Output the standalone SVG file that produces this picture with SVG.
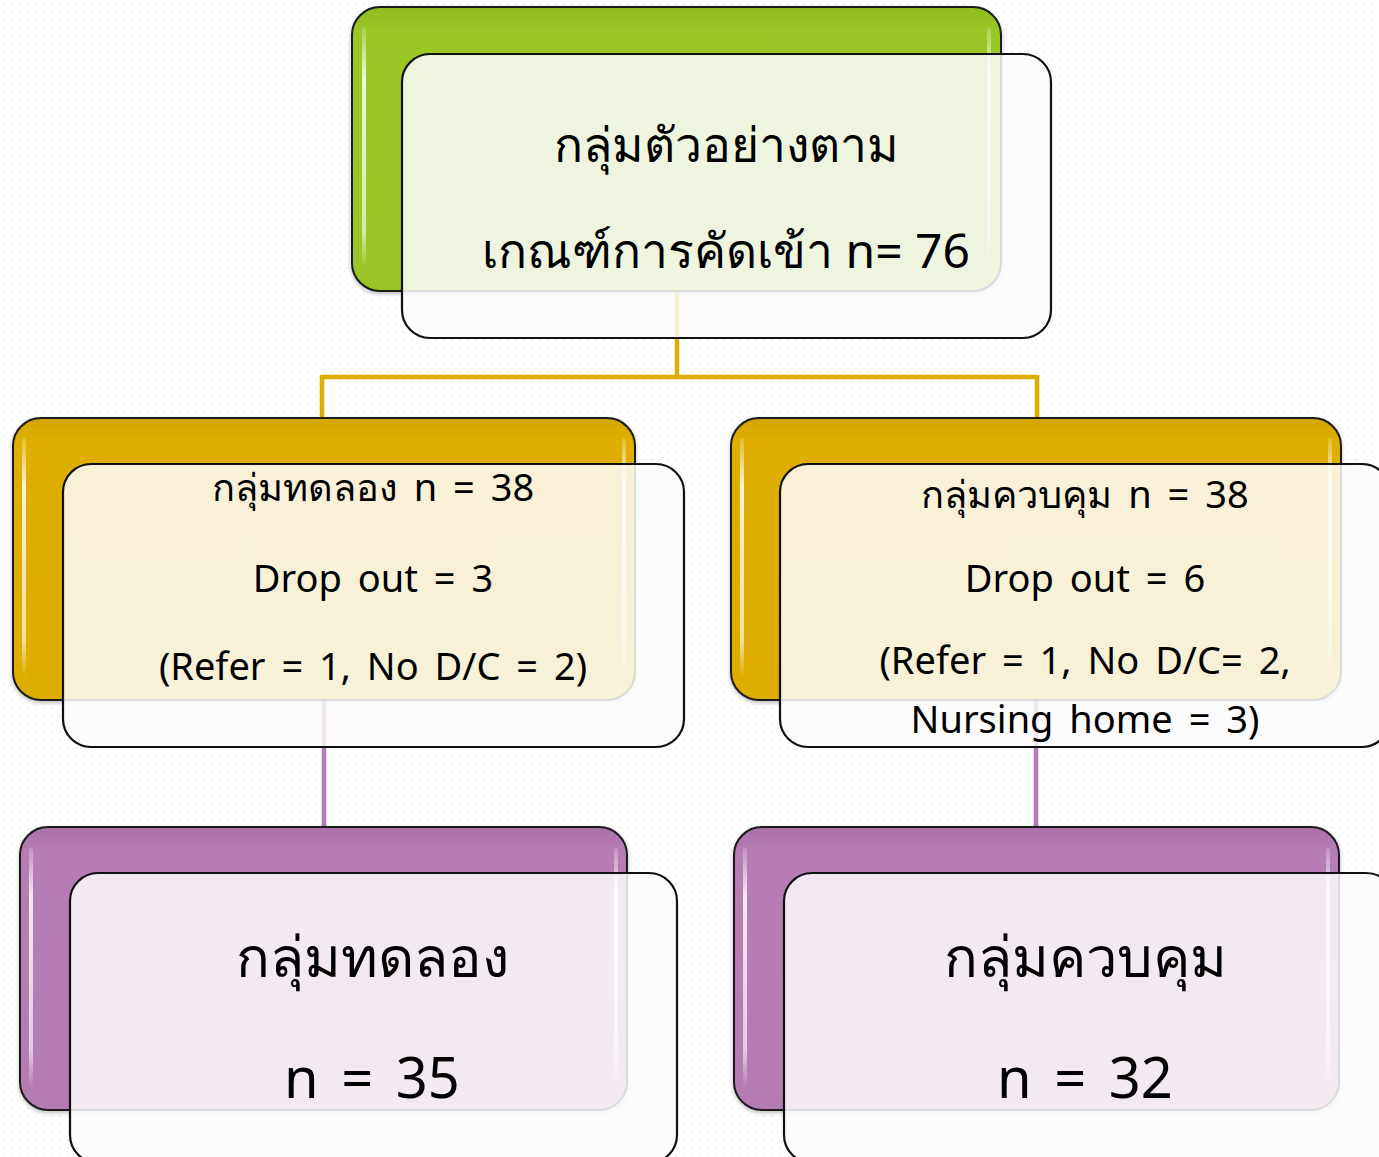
<svg xmlns="http://www.w3.org/2000/svg" width="1379" height="1157" viewBox="0 0 1379 1157">
<defs>
<pattern id="dots" width="8" height="8" patternUnits="userSpaceOnUse"><circle cx="4" cy="4" r="0.7" fill="#e2e2e2"/></pattern>
<linearGradient id="gGreen" x1="0" y1="0" x2="0" y2="1"><stop offset="0" stop-color="#8fbb1f"/><stop offset="0.08" stop-color="#9bc627"/><stop offset="1" stop-color="#9ac525"/></linearGradient>
<linearGradient id="gGold" x1="0" y1="0" x2="0" y2="1"><stop offset="0" stop-color="#d3a500"/><stop offset="0.08" stop-color="#deaf03"/><stop offset="1" stop-color="#ddae02"/></linearGradient>
<linearGradient id="gPurple" x1="0" y1="0" x2="0" y2="1"><stop offset="0" stop-color="#ab70a9"/><stop offset="0.08" stop-color="#b67cb4"/><stop offset="1" stop-color="#b57bb3"/></linearGradient>
<linearGradient id="hl" x1="0" y1="0" x2="0" y2="1"><stop offset="0" stop-color="#fff" stop-opacity="0.2"/><stop offset="0.2" stop-color="#fff" stop-opacity="0.85"/><stop offset="0.85" stop-color="#fff" stop-opacity="0.6"/><stop offset="1" stop-color="#fff" stop-opacity="0"/></linearGradient>
<filter id="sh" x="-5%" y="-5%" width="110%" height="115%"><feDropShadow dx="0" dy="2" stdDeviation="2" flood-color="#000" flood-opacity="0.25"/></filter>
</defs>
<style>
.back{stroke:#1a1a1a;stroke-width:2}
.front{fill:#fbfbfb;fill-opacity:0.86;stroke:#111;stroke-width:2.2}
.hl{stroke:url(#hl);stroke-width:4;stroke-linecap:round;fill:none}
.t{font-family:"Noto Sans","Liberation Sans","DejaVu Sans",sans-serif;fill:#000;text-anchor:middle}
.big{font-size:48px}
.mid{font-size:38px;word-spacing:6px}
.lg{font-size:56px;word-spacing:8px}
.cg{stroke:#ddad00;stroke-width:4.5;fill:none}
.cp{stroke:#b67cb4;stroke-width:4.5;fill:none}
</style>
<rect width="1379" height="1157" fill="#fff"/>
<rect width="1379" height="1157" fill="url(#dots)"/>
<g id="connectors">
<path class="cg" d="M677 291 V377 M322 377 H1037 M322 375 V418 M1037 375 V418"/>
<path class="cp" d="M324 700 V828 M1036 700 V828"/>
</g>
<g id="node-top">
<rect class="back" x="352" y="7" width="649" height="284" rx="28" fill="url(#gGreen)" filter="url(#sh)"/>
<path class="hl" d="M364 30 V268 M989 30 V268"/>
<rect class="front" x="402" y="54" width="649" height="284" rx="28"/>
<text class="t big" x="726" y="162">กลุ่มตัวอย่างตาม</text>
<text class="t big" x="726" y="268">เกณฑ์การคัดเข้า n= 76</text>
</g>
<g id="node-exp">
<rect class="back" x="13" y="418" width="622" height="282" rx="28" fill="url(#gGold)" filter="url(#sh)"/>
<path class="hl" d="M24 440 V677 M624 440 V677"/>
<rect class="front" x="63" y="464" width="621" height="283" rx="28"/>
<text class="t mid" x="373" y="501">กลุ่มทดลอง n = 38</text>
<text class="t mid" x="373" y="592">Drop out = 3</text>
<text class="t mid" x="373" y="680">(Refer = 1, No D/C = 2)</text>
</g>
<g id="node-ctrl">
<rect class="back" x="731" y="418" width="610" height="282" rx="28" fill="url(#gGold)" filter="url(#sh)"/>
<path class="hl" d="M742 440 V677 M1330 440 V677"/>
<rect class="front" x="780" y="464" width="610" height="283" rx="28"/>
<text class="t mid" x="1085" y="508">กลุ่มควบคุม n = 38</text>
<text class="t mid" x="1085" y="592">Drop out = 6</text>
<text class="t mid" x="1085" y="674">(Refer = 1, No D/C= 2,</text>
<text class="t mid" x="1085" y="733">Nursing home = 3)</text>
</g>
<g id="node-exp-final">
<rect class="back" x="20" y="827" width="607" height="283" rx="28" fill="url(#gPurple)" filter="url(#sh)"/>
<path class="hl" d="M31 850 V1087 M616 850 V1087"/>
<rect class="front" x="70" y="873" width="607" height="290" rx="28"/>
<text class="t lg" x="372" y="977">กลุ่มทดลอง</text>
<text class="t lg" x="372" y="1098">n = 35</text>
</g>
<g id="node-ctrl-final">
<rect class="back" x="734" y="827" width="605" height="283" rx="28" fill="url(#gPurple)" filter="url(#sh)"/>
<path class="hl" d="M745 850 V1087 M1328 850 V1087"/>
<rect class="front" x="784" y="873" width="610" height="290" rx="28"/>
<text class="t lg" x="1085" y="977">กลุ่มควบคุม</text>
<text class="t lg" x="1085" y="1098">n = 32</text>
</g>
</svg>
